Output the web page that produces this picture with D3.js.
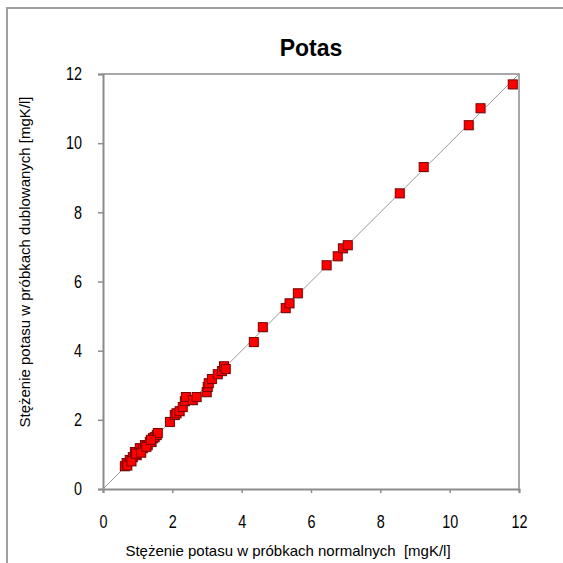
<!DOCTYPE html>
<meta charset="utf-8">
<script src="https://d3js.org/d3.v7.min.js"></script>
<style>
  body { margin: 0; background: #fff; }
  text { font-family: "Liberation Sans", Arial, sans-serif; }
</style>
<div id="chart"></div>
<script>
    // Sample pairs: normal sample vs duplicated sample (mgK/l)
    var normalne = [0.63, 0.68, 0.77, 0.86, 0.92, 0.97, 1.04, 1.06, 1.15, 1.21, 1.29, 1.35, 1.40, 1.44, 1.49, 1.55, 1.58,
                    0.70, 0.82, 0.95, 1.10, 1.25, 1.38,
                    1.93, 2.07, 2.12, 2.21, 2.30, 2.36, 2.39, 2.59, 2.70, 2.99, 3.02, 3.05, 3.14, 3.31, 3.43, 3.49, 3.54,
                    4.35, 4.61, 5.27, 5.38, 5.62, 6.45, 6.77, 6.92, 7.06, 8.56, 9.25, 10.55, 10.89, 11.82]
    var dublowane = [0.66, 0.75, 0.84, 0.92, 1.07, 0.98, 1.07, 1.18, 1.18, 1.27, 1.27, 1.36, 1.36, 1.47, 1.50, 1.56, 1.62,
                     0.68, 0.80, 1.02, 1.05, 1.22, 1.42,
                     1.94, 2.14, 2.19, 2.25, 2.37, 2.54, 2.66, 2.57, 2.66, 2.80, 2.95, 3.06, 3.18, 3.32, 3.41, 3.55, 3.47,
                     4.25, 4.68, 5.23, 5.37, 5.66, 6.47, 6.73, 6.96, 7.05, 8.55, 9.31, 10.52, 11.01, 11.70]
    var ticks = [0, 2, 4, 6, 8, 10, 12]

    var data = normalne.map(function(d, i) { return {x: d, y: dublowane[i]} })

    var width = 563, height = 563
    var plot = {left: 103, right: 519, top: 74, bottom: 489}
    var narrow = 0.8   // tick labels are a condensed face in the original

    var svg = d3.select("#chart").append("svg")
        .attr("width", width)
        .attr("height", height)

    // outer frame (goes past the picture on the right and bottom)
    svg.append("rect")
        .attr("x", 7).attr("y", 8)
        .attr("width", 700).attr("height", 700)
        .attr("fill", "none")
        .attr("stroke", "#a0a0a0")
        .attr("stroke-width", 2)

    var x = d3.scaleLinear().domain([0, 12]).range([plot.left, plot.right])
    var y = d3.scaleLinear().domain([0, 12]).range([plot.bottom, plot.top])

    // top and right border of plot area
    svg.append("path")
        .attr("d", "M" + plot.left + "," + plot.top + "H" + plot.right + "V" + plot.bottom)
        .attr("fill", "none")
        .attr("stroke", "#8c8c8c")
        .attr("stroke-width", 1.5)

    // X axis
    var gx = svg.append("g")
        .attr("transform", "translate(0," + plot.bottom + ")")
        .call(d3.axisBottom(x).tickValues(ticks).tickSize(4).tickPadding(22))
    gx.select(".domain").attr("stroke", "#8c8c8c").attr("stroke-width", 2)
    gx.selectAll(".tick line").attr("stroke", "#8c8c8c").attr("stroke-width", 1.5)
    gx.selectAll(".tick text").attr("fill", "#000").style("font-size", "18px")
        .style("font-family", "'Liberation Sans', Arial, sans-serif")
        .attr("transform", "scale(" + narrow + ",1)")

    // Y axis
    var gy = svg.append("g")
        .attr("transform", "translate(" + plot.left + ",0)")
        .call(d3.axisLeft(y).tickValues(ticks).tickSize(5).tickPadding(16))
    gy.select(".domain").attr("stroke", "#8c8c8c").attr("stroke-width", 2)
    gy.selectAll(".tick line").attr("stroke", "#8c8c8c").attr("stroke-width", 1.5)
    gy.selectAll(".tick text").attr("fill", "#000").style("font-size", "18px")
        .style("font-family", "'Liberation Sans', Arial, sans-serif")
        .attr("x", -21 / narrow)
        .attr("transform", "scale(" + narrow + ",1)")

    // 1:1 line
    svg.append("line")
        .attr("x1", x(0)).attr("y1", y(0))
        .attr("x2", x(12)).attr("y2", y(12))
        .attr("stroke", "#9a9a9a")
        .attr("stroke-width", 1)

    var s = 9
    // light shadow behind markers
    svg.selectAll("rect.shadow")
        .data(data)
        .enter()
        .append("rect")
        .attr("class", "shadow")
        .attr("x", function(d) { return x(d.x) - s / 2 + 1 })
        .attr("y", function(d) { return y(d.y) - s / 2 + 1 })
        .attr("width", s).attr("height", s)
        .attr("fill", "#d8d8d8")

    svg.selectAll("rect.pt")
        .data(data)
        .enter()
        .append("rect")
        .attr("class", "pt")
        .attr("x", function(d) { return x(d.x) - s / 2 })
        .attr("y", function(d) { return y(d.y) - s / 2 })
        .attr("width", s).attr("height", s)
        .attr("fill", "#ff0000")
        .attr("stroke", "#7a0000")
        .attr("stroke-width", 1)

    // title
    svg.append("text")
        .attr("x", 311).attr("y", 56)
        .attr("text-anchor", "middle")
        .style("font-size", "23px")
        .style("font-weight", "bold")
        .text("Potas")

    // axis titles
    svg.append("text")
        .attr("x", 288).attr("y", 556)
        .attr("text-anchor", "middle")
        .attr("xml:space", "preserve")
        .style("white-space", "pre")
        .style("font-size", "15px")
        .text("Stężenie potasu w próbkach normalnych  [mgK/l]")

    svg.append("text")
        .attr("transform", "translate(30,262) rotate(-90)")
        .attr("text-anchor", "middle")
        .style("font-size", "15px")
        .text("Stężenie potasu w próbkach dublowanych [mgK/l]")
</script>
